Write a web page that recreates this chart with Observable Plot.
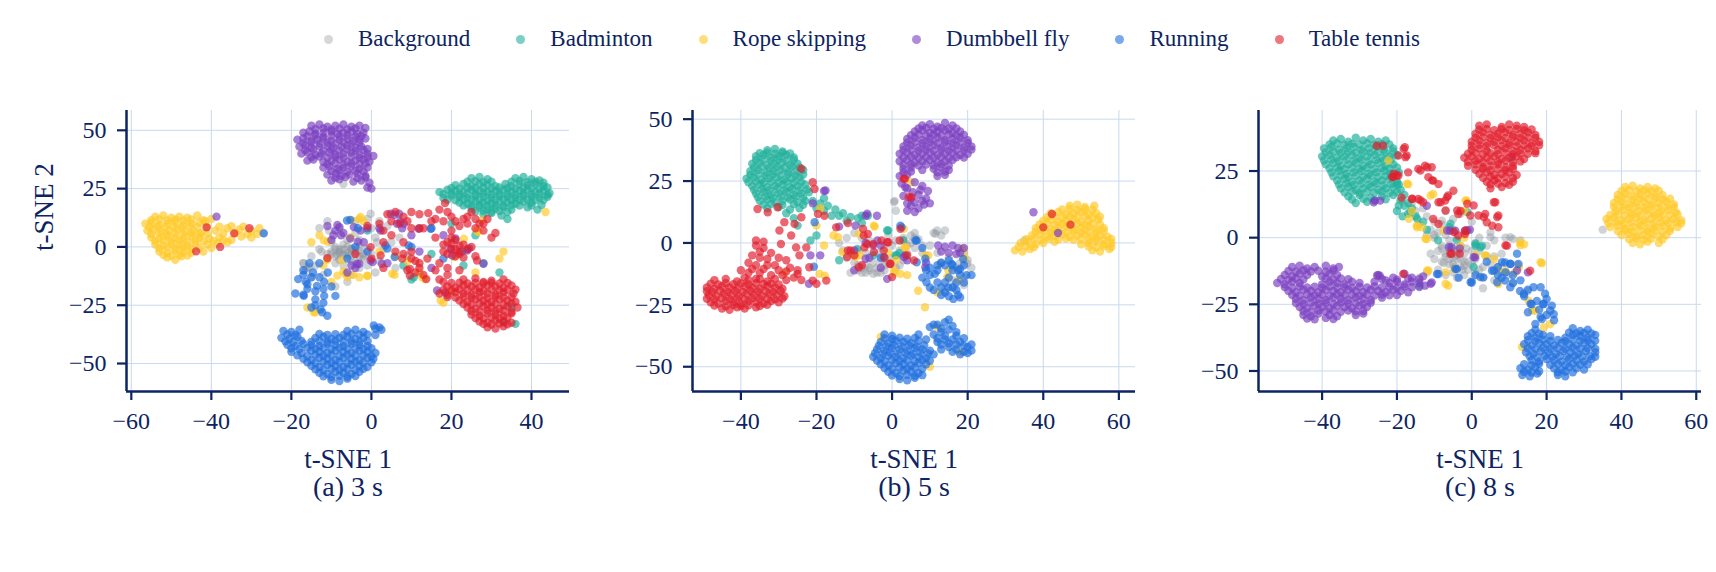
<!DOCTYPE html>
<html><head><meta charset="utf-8">
<script src="https://cdn.jsdelivr.net/npm/d3@7"></script>
<script src="https://cdn.jsdelivr.net/npm/@observablehq/plot@0.6"></script>
<style>
body{margin:0;background:#fff;font-family:"Liberation Serif","DejaVu Serif",serif;color:#0c2461;}
#fig{position:relative;width:1716px;height:572px;overflow:hidden;background:#fff;}
#legend{position:absolute;top:24px;height:30px;left:14px;width:1716px;display:flex;justify-content:center;align-items:center;font-size:23px;}
.item{display:flex;align-items:center;margin:0 23px;}
.mk{width:9px;height:9px;border-radius:50%;margin-right:25px;}
.panel{position:absolute;top:90px;}
</style></head>
<body><div id="fig"><div id="legend"></div></div>
<script>
const classes = ["Background","Badminton","Rope skipping","Dumbbell fly","Running","Table tennis"];
const colors = ["#8a9199","#1fb09b","#ffc926","#7a3fc0","#1f6fdd","#e11d2c"];
const captions = ["(a) 3 s","(b) 5 s","(c) 8 s"];
const xTicks1 = [-60,-40,-20,0,20,40];
const yTicks1 = [-50,-25,0,25,50];
const xTicks2 = [-40,-20,0,20,40,60];
const yTicks2 = [-50,-25,0,25,50];
const xTicks3 = [-40,-20,0,20,40,60];
const yTicks3 = [-50,-25,0,25];
const xDomain1 = [-61.2,49.5], yDomain1 = [-62,58.5];
const xDomain2 = [-52.8,64.4], yDomain2 = [-60,53.5];
const xDomain3 = [-57,61.4], yDomain3 = [-57.7,47.7];

// ---------- panel (a) 3 s ----------
const p1Background = [[-10,-3],[-8,-2],[-6,-4],[-4,-2],[-2,-3],[-9,0],[-7,1],[-5,-1],[-3,0],[-1,-1],[-11,-5],[-8,-5.5],[-5,-6],[-2,-5],[0,-3],[-12.5,-2],[-14,-8],[-16,-9],[-3,3],[-6,3],[-8,8],[-4,11],[-1,12],[2,11],[4,9],[1,4],[3,-1],[5,2],[-12,-12],[-9,-17],[-5,-12],[-7,27],[-27,6],[-7,-8],[-9,-7],[-13,-1],[-4,6],[0,8],[7,4],[9,-4],[-1,-8],[2,-6],[-15,-4],[-10,2],[-11,11],[-13,8],[-17,-7],[-15,-13],[6,-9],[1,-11],[-3,-9],[12,8],[-6,-15],[-9,-4],[-7,-3],[-5,-3],[-3,-4],[-8,-1],[-6,0],[-4,-6],
[-9,-1],[-8,-2.5],[-7,-1],[-6,-2.5],[-5,-1],[-4,-3],[-8.5,-3.5],[-6.5,-3.5],[-5,-0.5],[-10,-2],[-3,-1.5],[-2,-4],[-11,-3],[-17,-7],[-15.5,-8.5],[-16.5,-10],[-10.6,7],[1.4,2],[-0.2,14.2]];
const p1Badminton = [[25,29.5],[27,30],[29,29],[36,29.5],[38,30],[40,29],[42,28.5],
[21,26.5],[23,27],[25,26],[27,27],[29,26.5],[31,26],[33.5,27],[35,26],[37,27],[39,26.5],[41,27],[43,26],
[17,23.5],[19,24.5],[21,24],[23,23.5],[25,24.5],[27,24],[29,23.5],[31,24],[33,24.5],[35,23.5],[37,24],[39,24.5],[41,23.5],[43,24],[44.5,23],
[18,21],[20,22],[22,21.5],[24,21],[26,22],[28,21.5],[30,21],[32,22],[34,21.5],[36,21],[38,22],[40,21.5],[42,21],[44,21.5],
[22,19],[24,18.5],[26,19.5],[28,19],[30,18.5],[32,19.5],[34,19],[36,18.5],[38,19.5],[40,19],[42.5,18],
[25,16.5],[27,17],[29,16],[31,16.5],[33,17],[35,16],[39,17],[41.5,16],
[28,14],[30,14.5],[32.5,13.5],[34,12],
[24,28],[26,28.2],[28,27.8],[30,28],[35,28],[37,28.3],[39,27.8],[41,28],[43,27.5],
[20,25.3],[22,25],[24,25.5],[26,25.2],[28,25.4],[30,25],[32,25.5],[34,25.2],[36,25],[38,25.4],[40,25.2],[42,25],[44,25.5],
[18,22.7],[20,22.9],[22,22.5],[24,22.8],[26,22.6],[28,23],[30,22.5],[32,22.8],[34,22.7],[36,22.4],[38,22.9],[40,22.6],[42,22.8],[44,22.4],
[19,20.2],[21,20],[23,20.4],[25,20.1],[27,20.3],[29,19.9],[31,20.2],[33,20.4],[35,20],[37,20.2],[39,20.3],[41,20],[43,20.1],
[23,17.8],[25,17.6],[27,18],[29,17.7],[31,17.9],[33,17.6],[35,18],[37,17.7],[40,17.8],
[26,15.3],[28,15.5],[30,15.1],[32,15.4],[34,15],
[10,-14],[8,-8],[20,10],[26,5],[28,-7],[32,-11],[36,-33],[35,-26],[-1,7],[15,-3],[23,-8],[10.6,-13],[33.1,-32.3]];
const p1RopeSkipping = [[-54,13],[-52,13.5],[-50,12.5],[-48,13],[-46,12.5],[-43.5,13.5],
[-56.5,10],[-55,10.5],[-53,9.5],[-51,10],[-49,10.5],[-47,9.5],[-45,10],[-43,10.5],[-41.5,11],[-40,12],
[-56,7],[-54.5,7.5],[-52.5,6.5],[-50.5,7],[-48.5,7.5],[-46.5,6.5],[-44.5,7],[-42.5,6],[-39,7],[-36,8],[-33,7.5],[-30,7],[-28,8],
[-55,4],[-53,3.5],[-51,4.5],[-49,4],[-47,3.5],[-45,4.5],[-43,4],[-40.5,3.5],[-38,4],[-35,3],[-32.5,4.5],[-30,4],[-28.5,5.5],
[-54,1],[-52,0.5],[-50,1.5],[-48,1],[-46,0.5],[-44,1.5],[-41,1],[-38.5,1.5],[-36,2],
[-53,-2],[-51,-2.5],[-49,-1.5],[-47,-2],[-45,-2.5],[-42,-2],
[-51,-4.5],[-49,-5.5],[-47.5,-4],
[-55,11.5],[-53,11.8],[-51,11.4],[-49,11.7],[-47,11.3],[-45,11.8],[-42,11.5],
[-55.5,8.5],[-53.5,8.8],[-51.5,8.4],[-49.5,8.7],[-47.5,8.3],[-45.5,8.8],[-43.5,8.5],[-41,8.6],[-38,8.7],[-35,8.9],[-32,8.7],
[-55,5.5],[-53,5.8],[-51,5.4],[-49,5.7],[-47,5.3],[-45,5.8],[-43,5.5],[-41,5.6],[-37,5.8],[-34,6],[-31,5.5],
[-54,2.5],[-52,2.8],[-50,2.4],[-48,2.7],[-46,2.3],[-44,2.8],[-42,2.5],[-39.5,2.6],[-37,3],
[-53,-0.5],[-51,-0.2],[-49,-0.6],[-47,-0.3],[-45,-0.7],[-43,-0.3],[-40,-0.5],
[-52,-3.5],[-50,-3.8],[-48,-3.4],[-46,-3.7],
[-11,-5.5],[-13,5],[-7,-10.5],[-8.5,-12.3],[-6,-13],[-4.5,-12],[-3,-13],[-1,-12.5],[2,-2],[5.8,-12],[-12,-8],[-10,-15],[-16,-26],[-14,-28],[-2,11],[-5,11.5],[12,-11],[13.3,-13.8],[20,-19],[26.7,6.5],[32,-5],[33,-2],[18,-24],[20.7,-4.3],[6,-4],[-15,2],[-10.9,2.2],[-3,12],[9,-6],[26,-11],[43.5,15],
[-11.9,2.8],[-7.3,-5.8],[-5.2,4.2],[-6.5,-11.5],[-1,-12.3],[5.2,-11.5],[12.7,-13],[17.3,-23],[26.4,7],[27.7,11.3],[23.1,3.5],[-2.7,12.8],[-14.4,-28]];
const p1DumbbellFly = [[-15,52],[-13,52.5],[-11,51.5],[-9,52],[-7,52.5],[-5,51.5],[-3,52],[-1.5,51],
[-17,49],[-15.5,49.5],[-14,48.5],[-12,49],[-10,49.5],[-8.5,48.5],[-7,49],[-5,49.5],[-3.5,48.5],[-2,49],
[-18.5,46],[-17,46.5],[-15,45.5],[-13.5,46],[-12,46.5],[-10,45.5],[-8,46],[-6,46.5],[-4.5,45.5],[-3,46],[-1.5,46.5],
[-18,43],[-16.5,43.5],[-15,42.5],[-13,43],[-11,43.5],[-9.5,42.5],[-7.5,43],[-6,43.5],[-4,42.5],[-2.5,43],[-1,42],
[-17.5,40],[-16,40.5],[-14,39.5],[-12.5,40],[-10.5,40.5],[-9,39.5],[-7,40],[-5,40.5],[-3,39.5],[-1,40],[0.5,39],
[-16,37],[-14.5,37.5],[-12,36.5],[-10,37],[-8,37.5],[-6,36.5],[-4,37],[-2,37.5],[-0.5,36.5],
[-12,34],[-10.5,34.5],[-8.5,33.5],[-7,34],[-5,34.5],[-3,33.5],[-1,34],
[-11,31],[-9,31.5],[-7.5,30.5],[-5.5,31],[-3.5,31.5],[-1.5,30.5],
[-10,28.5],[-8,29],[-4.5,28],[-2.5,28.5],[-0.5,27.5],[-1,25.5],[0,25],
[-14,50.5],[-12,50.8],[-10,50.3],[-8,50.7],[-6,50.4],[-4,50.8],
[-16,47.5],[-14,47.8],[-12,47.3],[-10,47.7],[-8,47.4],[-6,47.8],[-4,47.3],[-2.5,47.6],
[-17,44.5],[-15,44.8],[-13,44.3],[-11,44.7],[-9,44.4],[-7,44.8],[-5,44.3],[-3,44.6],
[-16.5,41.5],[-14.5,41.8],[-12,41.3],[-10,41.7],[-8,41.4],[-6,41.8],[-4,41.3],[-2,41.6],
[-15,38.5],[-13,38.8],[-11,38.3],[-9,38.7],[-7,38.4],[-5,38.8],[-3,38.3],[-1,38.6],
[-11,35.5],[-9,35.8],[-7,35.3],[-5,35.7],[-3,35.4],[-1.5,35.8],
[-10,32.5],[-8,32.8],[-6,32.3],[-4,32.7],[-2,32.4],
[-9,29.7],[-6.5,30],[-3.5,29.5],[-1.5,29.8],
[-8.5,9.4],[-7.6,5],[-5.3,3.6],[-3.4,2.2],[-3,-7.2],[0.3,-6.5],[2.6,-7.2],[5.8,13.8],[7.2,10.9],[7.7,8],[10,5],[18,5],[18.4,-19.6],[21,3.6],[28,-7.2],[24.4,-0.7],[-6,-11],[-4,-9],[12,-2],[15,-9],[2,8],[-1,8],[4,-7],[-11,9],[-10,3],[-5,-8],[-38.7,13],
[-9,7],[-8,8.5],[-7,6],[-9.5,5],[-2.7,7],[-1.9,2],[2.3,7],[4.8,14.2],[6.9,14.2],[6.4,9.9],[8.1,9.9],[11.8,7.8],[19.8,-0.8],[23.9,-1.5],[20.2,-3.7],[-0.2,-5.8],[-3.6,-7.3],[16.4,-18.7],[-4.4,8.5]];
const p1Running = [[-22,-36],[-20,-36.5],[-18,-35.5],[-6,-36],[-4,-35.5],[-2,-36.5],[1,-35],[2.5,-35.5],
[-22.5,-39],[-20.5,-39.5],[-18.5,-38.5],[-14,-39],[-12,-38.5],[-10,-39.5],[-8,-39],[-6,-38.5],[-4,-39.5],[-2,-39],
[-21,-42],[-19,-42.5],[-17,-41.5],[-15,-42],[-13,-42.5],[-11,-41.5],[-9,-42],[-7,-42.5],[-5,-41.5],[-3,-42],[-1,-42.5],
[-20,-45],[-17.5,-45.5],[-15,-44.5],[-13,-45],[-11,-45.5],[-9,-44.5],[-7,-45],[-5,-45.5],[-3,-44.5],[-1,-45],[1,-45.5],
[-17,-48],[-15,-48.5],[-13,-47.5],[-11,-48],[-9,-48.5],[-7,-47.5],[-5,-48],[-3,-48.5],[-1,-47.5],[0.5,-48],
[-15,-51],[-13,-51.5],[-11,-50.5],[-9,-51],[-7,-51.5],[-5,-50.5],[-3,-51],[-1,-51.5],
[-13,-54],[-11,-54.5],[-9,-53.5],[-7,-54],[-5,-54.5],[-3,-53.5],
[-10,-57],[-8,-57.5],[-6,-56.5],
[-21,-37.5],[-19,-37.8],[-13,-37.3],[-11,-37.7],[-9,-37.4],[-7,-37.8],[-5,-37.3],[-3,-37.6],[-1,-37.5],[1,-37.8],
[-21.5,-40.5],[-19.5,-40.8],[-17.5,-40.3],[-15,-40.7],[-13,-40.4],[-11,-40.8],[-9,-40.3],[-7,-40.6],[-5,-40.5],[-3,-40.8],[-1,-40.4],
[-20,-43.5],[-18,-43.8],[-16,-43.3],[-14,-43.7],[-12,-43.4],[-10,-43.8],[-8,-43.3],[-6,-43.6],[-4,-43.5],[-2,-43.8],[0,-43.4],
[-18.5,-46.5],[-16,-46.8],[-14,-46.3],[-12,-46.7],[-10,-46.4],[-8,-46.8],[-6,-46.3],[-4,-46.6],[-2,-46.5],[0,-46.8],
[-16,-49.5],[-14,-49.8],[-12,-49.3],[-10,-49.7],[-8,-49.4],[-6,-49.8],[-4,-49.3],[-2,-49.6],[0,-49.5],
[-14,-52.5],[-12,-52.8],[-10,-52.3],[-8,-52.7],[-6,-52.4],[-4,-52.8],[-2,-52.3],
[-12,-55.5],[-10,-55.8],[-8,-55.3],[-6,-55.7],[-4,-55.4],
[-15.5,-7],[-14.6,-11],[-16.4,-15],[-13.6,-16.7],[-10.9,-11],[-11.8,-15],[-16.9,-21],[-14,-22.5],[-11.8,-21],[-12.7,-26.8],[-12.3,-28],[-9,-21],[-18.3,-13.8],[-13,-7],[-17,-10],[-14,-19],[-15,-26],[-11,-29.5],[-19,-20],[-15,-13],[-13,-13],[-16,-18],[-12,-18],[-14,-25],
[-17,-12],[-16,-16],[-10,-17],[-12,-24],[-17,-20.5],
[-5.3,11.6],[-3.4,8],[4,-0.7],[5.8,-4.3],[10,0],[15,8],[18,-5],[22.6,-2],[-4,0],[-1,-2],[-6,-5],[-26.9,5.8],[14.8,7.8],[9.3,0.6],[3.5,0.6],[-6.1,11.3],[0.6,-33.7],[2,-34.5]];
const p1TableTennis = [[23,-14],[26,-13.5],[30,-14.5],[33,-14],
[19,-17],[21,-17.5],[23,-16.5],[25,-17],[27,-17.5],[29,-16.5],[31,-17],[33,-17.5],[35,-16.5],
[17,-20],[19,-20.5],[21,-19.5],[23,-20],[25,-20.5],[27,-19.5],[29,-20],[31,-20.5],[33,-19.5],[35.5,-20],
[22,-23],[24,-23.5],[26,-22.5],[28,-23],[30,-23.5],[32,-22.5],[34,-23],[36,-23.5],
[24,-26],[26,-26.5],[28,-25.5],[30,-26],[32,-26.5],[34,-25.5],[36.5,-26],
[25,-29],[27,-29.5],[29,-28.5],[31,-29],[33,-29.5],[35,-28.5],
[27,-32],[29,-32.5],[31,-31.5],[33,-32],[35,-32.5],
[29,-34.5],[31,-35],[33,-34],
[20,-15.5],[22,-15.3],[24,-15.7],[26,-15.4],[28,-15.6],[30,-15.3],[32,-15.7],[34,-15.4],
[18,-18.5],[20,-18.7],[22,-18.3],[24,-18.6],[26,-18.4],[28,-18.8],[30,-18.3],[32,-18.6],[34,-18.5],[36,-18.3],
[19,-21.5],[21,-21.7],[23,-21.3],[25,-21.6],[27,-21.4],[29,-21.8],[31,-21.3],[33,-21.6],[35,-21.5],
[23,-24.5],[25,-24.7],[27,-24.3],[29,-24.6],[31,-24.4],[33,-24.8],[35,-24.3],
[25,-27.5],[27,-27.7],[29,-27.3],[31,-27.6],[33,-27.4],[35,-27.8],
[26,-30.5],[28,-30.7],[30,-30.3],[32,-30.6],[34,-30.4],
[28,-33],[30,-33.3],[32,-32.8],[34,-33.2],
[17,-14],[19,-12],[16,-10],[22,-10],[18,-15],
[19,2],[21,3],[23,1],[20,-1],[22,-2],[24,-1],[21,-4],[23,-4.5],[25,0],[20,4],[22,0.5],[18,1],[19,-3],[21,-1],[20,1.5],[22,-3],
[-11,-4.8],[2,10],[5,11],[7,10],[9,11],[12,8],[14.2,14.5],[16,12],[18.4,18.8],[17,16],[20,13],[22,9],[24,10],[26,8],[28,7],[30,4],[3,2],[5,5],[6,-2],[7.7,-5],[9.6,-9.4],[9.6,-12.3],[11,-6],[12,-9],[14,-5],[13.7,-13.8],[17,-7],[16,4],[18,11],[20,7],[23,12],[25,15],[27,10],[29,12],[31,6],[0,-5],[3,-9],[10,-2],[-1,9],[-4,-3],[8,2],[13,8],[18,-2],[26,-4],[28,-15],[19,-9],
[8,-3],[10,-5],[12,-7],[9,-10],[11,-11],[13,-12],[-0.2,-0.1],[2.3,-3.7],[26.4,-5.8],[4,14],[6,15],[8,13],[10,15],[12,14],[15,11],[19,15],[21,11],[24,13],[26,12],[28,10],[3,7],[10,8],
[-41.2,8.4],[-37.8,0],[-43.8,-1.9],[-34.3,5.8],[-30.5,8]];

// ---------- panel (b) 5 s ----------
const p2Background = [[-13,-3],[-11,-4],[-9,-3],[-7,-4],[-12,-6],[-10,-8],[-8,-10],[-6,-11],[-4,-10],[-2,-11],[-9,-11],[-5,-8],[-3,-7],[-1,-8],[0,-6],[-4,-4],[-2,-2],[0,-1],[1,1],[3,2],[-6,1],[-8,2],[-10,4],[2,-3],[4,-4],[6,-2],[5,3],[11,4],[13,3],[14,5],[13,-8],[18,-8],[20,-7],[21,-10],[19,-14],[0.7,17],[-11,-12],[-7,-12],[6,4],[-3,-12],[-5,-12.5],[-7,-9],[1,-10],[3,-7],[8,-4],[10,-1],[12,-4],[15,-6],[17,-10],[19,-4],[-14,0],[-12,2],[1,13],[2,-9],[-1,3],[16,-15],[19,-17],[14,-19],[35,1],[-8,-12],[-6,-10],[-4,-12],[-2,-9],[-9,-9],
[3,1],[5,0],[7,1.5],[8,-1],[4,-1],[6,2],[11.5,3.7],[11.9,5],[12.8,-8.4],[19.9,-8.4],[16.3,-17.9],[0.5,16.5]];
const p2Badminton = [[-33,37.5],[-31,38],[-29,37],
[-36,35],[-34,35.5],[-32,34.5],[-30,35],[-28,35.5],[-26,34.5],
[-37,32],[-35,32.5],[-33,31.5],[-31,32],[-29,32.5],[-27,31.5],[-25,32],
[-37.5,29],[-35.5,29.5],[-33.5,28.5],[-31.5,29],[-29.5,29.5],[-27.5,28.5],[-25.5,29],[-23.5,29.5],
[-38.5,26],[-36.5,26.5],[-34.5,25.5],[-32.5,26],[-30.5,26.5],[-28.5,25.5],[-26.5,26],[-24.5,26.5],
[-37,23],[-35,23.5],[-33,22.5],[-31,23],[-29,23.5],[-27,22.5],[-25,23],[-23,23.5],
[-36,20],[-34,20.5],[-32,19.5],[-30,20],[-28,20.5],[-26,19.5],[-24,20],[-22,20.5],
[-35,17],[-33,17.5],[-31,16.5],[-29,17],[-27,17.5],[-25,16.5],[-23,17],
[-33,14],[-30,14.5],[-27,13.5],[-24.5,14],
[-35,36.3],[-33,36.5],[-31,36.1],[-29,36.4],[-27,36.2],
[-36,33.5],[-34,33.8],[-32,33.3],[-30,33.7],[-28,33.4],[-26,33.6],
[-36.5,30.5],[-34.5,30.8],[-32.5,30.3],[-30.5,30.7],[-28.5,30.4],[-26.5,30.8],[-24.5,30.5],
[-37.5,27.5],[-35.5,27.8],[-33.5,27.3],[-31.5,27.7],[-29.5,27.4],[-27.5,27.8],[-25.5,27.3],[-23.5,27.6],
[-38,24.5],[-36,24.8],[-34,24.3],[-32,24.7],[-30,24.4],[-28,24.8],[-26,24.3],[-24,24.6],
[-36.5,21.5],[-34.5,21.8],[-32.5,21.3],[-30.5,21.7],[-28.5,21.4],[-26.5,21.8],[-24.5,21.3],[-22.5,21.6],
[-35.5,18.5],[-33.5,18.8],[-31.5,18.3],[-29.5,18.7],[-27.5,18.4],[-25.5,18.8],[-23.5,18.3],
[-34,15.5],[-32,15.8],[-29,15.3],[-26,15.7],[-23.5,15.4],
[-21,17],[-19,16],[-17,15],[-15,13.5],[-13,12],[-11,10.5],[-9,10],[-20,14],[-16,11],[-12,9],[-26,10],[-28,12],[-18,18],[-8,11],[-6.4,11],[-14,11],[-18,13],
[-8,8],[-1,5],[1.2,-5],[2,-4],[-5,-5],[-20,3],[-14,-7],[3,1],[-25,7],[-1.3,5],[0.9,-5],[-9.2,-2.4],[-21.6,1]];
const p2RopeSkipping = [[47,15],[49,15.5],[51,14.5],[53.5,15],
[42,12],[44,12.5],[46,11.5],[48,12],[50,12.5],[52,11.5],[54,12],
[40,9],[42,9.5],[44,8.5],[46,9],[48,9.5],[50,8.5],[52,9],[54.5,9.5],
[38,6],[40,6.5],[42,5.5],[44,6],[46,6.5],[48,5.5],[50,6],[52,6.5],[54,5.5],[56,6],
[37,3],[39,3.5],[41,2.5],[43,3],[45,3.5],[47,2.5],[49,3],[51,3.5],[53,2.5],[55,3],[57,2.5],
[34,0],[36,0.5],[38,-0.5],[40,0],[43,0.5],[50,-0.5],[52,0],[54,0.5],[56,-0.5],[58,0],
[32.5,-3],[34.5,-3.5],[36.5,-2.5],[53,-3],[55,-3.5],[57.5,-2.5],
[45,13.5],[47,13.8],[49,13.3],[51,13.7],[53,13.4],
[41,10.5],[43,10.8],[45,10.3],[47,10.7],[49,10.4],[51,10.8],[53,10.3],[55,10.6],
[39,7.5],[41,7.8],[43,7.3],[45,7.7],[47,7.4],[49,7.8],[51,7.3],[53,7.6],[55,7.5],
[38,4.5],[40,4.8],[42,4.3],[44,4.7],[46,4.4],[48,4.8],[50,4.3],[52,4.6],[54,4.5],[56,4.8],
[35.5,1.5],[37.5,1.8],[39.5,1.3],[41.5,1.7],[44,1.4],[46,1.8],[48,1.3],[50,1.6],[52,1.5],[54,1.8],[56,1.4],[58,1.6],
[33.5,-1.5],[35.5,-1.2],[37.5,-1.7],[52,-1.4],[54,-1.7],[56,-1.3],[58,-1.6],
[-20,7],[-14.3,2.3],[-15.5,3],[-9.9,-4.7],[-8.5,-5],[-4.6,6.6],[3.4,-1.8],[3.8,-5],[0.7,-11.9],[9.6,-5],[18.8,-2.4],[19.2,-5.8],[-19.2,-12.5],[-17.8,-13.2],[-28.5,-12],[14.9,-11],[17.5,-15],[-19,14],[-18,-1],[-1,-4],[12,-20],[4,-13],[6.9,-19.3],[8.7,-26],[12,-34],[18,-44],[10,-50],[-3,-38],[5,24.5],[1,-7],
[-8.8,3.7],[-4.8,7],[-13.2,-3.7],[-9.7,-5.7],[0.5,-11.1],[3.1,5.7],[3.5,-1.7],[8.8,-5],[18.5,-2.4],[2.2,-12.5],[14.6,-13.8]];
const p2DumbbellFly = [[8,47.5],[10,48],[12,47],[14,48.5],[16,47.5],
[6,45],[8,45.5],[10,44.5],[12,45],[14,45.5],[16,44.5],[18,45],
[4,42],[6,42.5],[8,41.5],[10,42],[12,42.5],[14,41.5],[16,42],[18,42.5],[20,41.5],
[3,39],[5,39.5],[7,38.5],[9,39],[11,39.5],[13,38.5],[15,39],[17,39.5],[19,38.5],[21,39],
[2,36],[4,36.5],[6,35.5],[8,36],[10,36.5],[12,35.5],[14,36],[16,36.5],[18,35.5],[20,36],
[2,33],[4,33.5],[6,32.5],[8,33],[10,33.5],[12,32.5],[14,33],[16,33.5],
[3,30],[5,30.5],[8,29.5],[11,30],[13,30.5],[15,29.5],
[2,27],[4,27.5],[12,27],[14,27.5],
[7,46.2],[9,46.5],[11,46],[13,46.4],[15,46.1],[17,46.3],
[5,43.5],[7,43.8],[9,43.3],[11,43.7],[13,43.4],[15,43.8],[17,43.3],[19,43.6],
[4,40.5],[6,40.8],[8,40.3],[10,40.7],[12,40.4],[14,40.8],[16,40.3],[18,40.6],[20,40.5],
[3,37.5],[5,37.8],[7,37.3],[9,37.7],[11,37.4],[13,37.8],[15,37.3],[17,37.6],[19,37.5],[21,37.7],
[3,34.5],[5,34.8],[7,34.3],[9,34.7],[11,34.4],[13,34.8],[15,34.3],[17,34.6],[19,34.5],
[3,31.5],[5,31.8],[7,31.3],[9,31.7],[11,31.4],[13,31.8],[15,31.3],
[3,28.5],[5,28.8],[12,28.5],[14,28.8],
[2.5,24],[4,22],[6,24.5],[8,23],[9.5,21],[3,19],[5,18],[7,19.5],[9,18],[5,15],[7,14],[8.5,15.5],[4,13],[6,12.5],[10,16],[3.5,22.5],[5.5,20.5],[7.5,21.5],[6,16.5],[4,16],[8,17],
[12.2,-1],[14,-1.5],[16,-1],[17.5,-2],[13,-3.5],[15,-4],[17,-4.5],[19,-2],[18,-4],
[37.4,12.4],[43.9,4],
[-18,21],[-7,11],[-4,11],[-21,16],[-14,6.6],[-7,0],[-3,-1],[-6,-6],[-10,-11],[-3,-10],[4,-7],[9,-8],[3.5,-5],[-19,-5],[-10,-3],[-5,-1],
[-6.6,11.8],[-9.7,7],[-17.6,21.2],[-3.9,1],[-7,-6.4],[-1.3,-14.5],[3.1,-5.7],[8.8,-9.8],[-21.6,-5],[-22,-16.5]];
const p2Running = [[-2,-37],[0,-37.5],
[-3,-40],[-1,-40.5],[1,-39.5],[3,-40],[5,-40.5],[7,-39.5],
[-4,-43],[-2,-43.5],[0,-42.5],[2,-43],[4,-43.5],[6,-42.5],[8,-43],[10,-43.5],
[-5,-46],[-3,-46.5],[-1,-45.5],[1,-46],[3,-46.5],[5,-45.5],[7,-46],[9,-46.5],
[-3,-49],[-1,-49.5],[1,-48.5],[3,-49],[5,-49.5],[7,-48.5],[9,-49],
[-1,-52],[1,-52.5],[3,-51.5],[5,-52],[7,-52.5],
[2,-55],[4,-55.5],[6,-54.5],
[-2,-38.5],[0,-38.8],[2,-38.3],[4,-38.7],[6,-38.4],
[-3.5,-41.5],[-1.5,-41.8],[0.5,-41.3],[2.5,-41.7],[4.5,-41.4],[6.5,-41.8],[8.5,-41.3],
[-4.5,-44.5],[-2.5,-44.8],[-0.5,-44.3],[1.5,-44.7],[3.5,-44.4],[5.5,-44.8],[7.5,-44.3],[9.5,-44.6],
[-4,-47.5],[-2,-47.8],[0,-47.3],[2,-47.7],[4,-47.4],[6,-47.8],[8,-47.3],[10,-47.6],
[-2,-50.5],[0,-50.8],[2,-50.3],[4,-50.7],[6,-50.4],[8,-50.8],
[0,-53.5],[2,-53.8],[4,-53.3],[6,-53.7],[8,-53.4],
[10,-34],[12,-33],[14,-32],[15,-31],[11,-37],[13,-36],[15,-35],[17,-36],[12,-40],[14,-39],[16,-39],[18,-40],[20,-42],[13,-43],[15,-42],[17,-43],[19,-44],[21,-43.5],[11,-45],[9,-39],[7,-37],
[11,-33],[13,-34.5],[16,-33.5],[12,-38.5],[14,-37.5],[17,-37.5],[19,-38.5],[13,-41],[15,-40.5],[17,-41],[19,-41.5],[21,-41],[16,-44],[18,-45],[20,-44.5],
[11.3,-12.5],[9.1,-15.9],[10,-18],[12,-9],[15.8,-8.5],[17.5,-11],[19.7,-13],[14.9,-18],[17.5,-21],[16.2,-22.6],[9,-11],[8,-14],[11,-19],[15,-7],[19,-9],[16,-11],[18,-13],[15,-14],[17,-16],[14,-20],[18,-22],[13,-8],[21,-13],[13,-18],[12,-16],
[10,-10],[12,-11],[10,-13],[14,-9],[16,-9],[18,-10.5],[14,-16],[16,-18],[13,-21],[17,-19],[19,-16],[15,-21.5],
[6.5,1],[2.5,6.3],[-20.5,8.4],[-20.7,-9.6],[6.5,-7.8],[18.8,-6.5],[-3,-6],[8,-2],[6.2,1],[2.2,7],[-2.2,-5.7],[8.8,-6.4]];
const p2TableTennis = [[-47,-15],[-44,-14.5],[-41,-15.5],[-38,-15],[-35,-14.5],[-33,-15.5],
[-49,-18],[-47,-18.5],[-45,-17.5],[-43,-18],[-41,-18.5],[-39,-17.5],[-37,-18],[-35,-18.5],[-33,-17.5],[-31,-18],[-29,-18.5],
[-48.5,-21],[-46.5,-21.5],[-44.5,-20.5],[-42.5,-21],[-40.5,-21.5],[-38.5,-20.5],[-36.5,-21],[-34.5,-21.5],[-32.5,-20.5],[-30.5,-21],[-28.5,-21.5],
[-48,-24],[-46,-24.5],[-44,-23.5],[-42,-24],[-40,-24.5],[-38,-23.5],[-36,-24],[-34,-24.5],[-32,-23.5],[-30,-24],
[-45,-26.5],[-43,-27],[-41,-26],[-39,-26.5],[-36,-26],
[-48,-16.5],[-46,-16.8],[-44,-16.3],[-42,-16.7],[-40,-16.4],[-38,-16.8],[-36,-16.3],[-34,-16.6],[-32,-16.5],[-30,-16.8],
[-49,-19.5],[-47.5,-19.8],[-45.5,-19.3],[-43.5,-19.7],[-41.5,-19.4],[-39.5,-19.8],[-37.5,-19.3],[-35.5,-19.6],[-33.5,-19.5],[-31.5,-19.8],[-29.5,-19.4],
[-49,-22.5],[-47,-22.8],[-45,-22.3],[-43,-22.7],[-41,-22.4],[-39,-22.8],[-37,-22.3],[-35,-22.6],[-33,-22.5],[-31,-22.8],[-29,-22.4],
[-47,-25.3],[-44,-25.6],[-42,-25.1],[-40,-25.5],[-38,-25.2],[-35,-25.5],[-33,-25],
[-36,-1],[-34,-2],[-32,-4],[-37,-5],[-35,-6],[-30,-6],[-28,-7],[-38,-8],[-36,-9],[-33,-9],[-31,-9],[-27,-10],[-25,-11],[-40,-11],[-38,-12],[-35,-12],[-32,-13],[-29,-13],[-26,-14],[-24,-15],[-36,1],[-34,0.5],
[-35,-3.5],[-33,-6.5],[-37,-10.5],[-34,-10.5],[-30,-11],[-28,-11.5],[-31,-14.5],[-28,-15],[-39,-14],[-36,-14.5],
[-24,30],[-21,24.5],[-20.5,21.8],[-35.6,13.7],[-32.9,12.4],[-30.3,14.4],[-28.5,8.4],[-25.8,7.7],[-24,10.4],[-19.6,11.7],[-17.9,11],[-14.8,6.3],[-11.7,8],[-29.8,5],[-29.4,-0.4],[-26.7,3],[-25.4,-1.8],[-22.7,-1.8],[-24.5,-5],[-7.7,5.7],[-6.4,3.6],[-7.3,-1.8],[-5,-0.4],[-2.8,1],[-1,0.3],[-0.6,-8.5],[-11.7,-3],[-10,-5],[-21.9,-9.8],[-21,-15.2],[-17.4,-15.2],[-20,-16.5],[-25,-12.5],[-8,-9],[-2,-6],[4,-5],[2,1],[3.4,25.9],[5.1,18.5],[42.3,11.7],[40,6.3],[47.2,7.4],
[-7.5,3],[-6.6,-0.4],[-4.8,-3.7],[-2.2,-3],[-1.3,0.3],[2.2,5.7],[-0.4,-8.4],[0,-13.8],[5.8,-7.1],[-11,-3],[-11.9,-5.7],[-8.8,-9.8],[4.4,18.5],[3.1,25.9]];

// ---------- panel (c) 8 s ----------
const p3Background = [[-13,11],[-12,8],[-10,6],[-8,5],[-9,2],[-7,1],[-5,3],[-4,0],[-6,-1],[-8,-3],[-5,-4],[-3,-3],[-7,-7],[-4,-8],[-2,-6],[0,-5],[-6,-10],[-3,-11],[-1,-9],[1,-8],[2,-12],[-2,-14],[-4,-15],[0,-16],[3,-15],[-9,-12],[5,-10],[7,-11],[9,-13],[10,-14],[11,-17],[4,-3],[6,-1],[9,0],[11,-0.5],[13,-1],[5,2],[2,0],[-10,-8],[-15,10],[-12,-13],[-14,-15],[-11,3],[-10,1],[-16,13],[3,-19],[6,-16],[-5,-13],[-7,-14],[-1,-12],[1,-2],[-2,2],[-8,-9],[-11,-6],[8,-6],[12,-10],[15,-20],[35,3],[-3,9],[-5,7],[0,6],[-7,10],[-9,-5],[-6,-5],[-4,-5],[-2,-9],[2,-5],[4,-7],[6,-7],
[-8,-4],[-7,-6],[-6,-8],[-5,-10],[-4,-6.5],[-3,-8],[-2,-10.5],[-1.5,-4],[-6,-3],[-7.5,-9.5],[-5,-7.5],[-3.5,-5],[-4.5,-11],[-2.5,-12],[0,-10],[1,-13],[3,-11],[-14,5],[-12,1],[-8,6.4],[-10,0],[5,0.2],[10.3,0.2]];
const p3Badminton = [[-37,36.5],[-35,37],[-33,36],[-31,37.5],[-29,36.5],[-27,37],[-25,36],[-23,36.5],
[-39.5,33.5],[-37.5,34],[-35.5,33],[-33.5,33.5],[-31.5,34],[-29.5,33],[-27.5,33.5],[-25.5,34],[-23.5,33],[-21,33.5],
[-40,30.5],[-38,31],[-36,30],[-34,30.5],[-32,31],[-30,30],[-28,30.5],[-26,31],[-24,30],[-22,30.5],[-20,31],
[-39,27.5],[-37,28],[-35,27],[-33,27.5],[-31,28],[-29,27],[-27,27.5],[-25,28],[-23,27],[-21,27.5],
[-37.5,24.5],[-35.5,25],[-33.5,24],[-31.5,24.5],[-29.5,25],[-27.5,24],[-25.5,24.5],[-23.5,25],[-21.5,24],[-19.5,24.5],
[-36,21.5],[-34,22],[-32,21],[-30,21.5],[-28,22],[-26,21],[-24,21.5],[-22,22],[-20,21],
[-35,18.5],[-33,19],[-31,18],[-29,18.5],[-27,19],[-25,18],[-23,18.5],[-21,19],[-19,18],
[-33,15.5],[-30,16],[-27,15],[-24,15.5],[-21,16],[-31,13],[-28,13.5],
[-38,35],[-36,35.3],[-34,34.8],[-32,35.2],[-30,34.9],[-28,35.3],[-26,34.8],[-24,35.1],[-22,35],
[-39,32],[-37,32.3],[-35,31.8],[-33,32.2],[-31,31.9],[-29,32.3],[-27,31.8],[-25,32.1],[-23,32],[-21,32.3],
[-39.5,29],[-37.5,29.3],[-35.5,28.8],[-33.5,29.2],[-31.5,28.9],[-29.5,29.3],[-27.5,28.8],[-25.5,29.1],[-23.5,29],[-21.5,29.3],
[-38,26],[-36,26.3],[-34,25.8],[-32,26.2],[-30,25.9],[-28,26.3],[-26,25.8],[-24,26.1],[-22,26],[-20,26.3],
[-37,23],[-35,23.3],[-33,22.8],[-31,23.2],[-29,22.9],[-27,23.3],[-25,22.8],[-23,23.1],[-21,23],
[-35.5,20],[-33.5,20.3],[-31.5,19.8],[-29.5,20.2],[-27.5,19.9],[-25.5,20.3],[-23.5,19.8],[-21.5,20.1],[-19.5,20],
[-34,17],[-32,17.3],[-30,16.8],[-28,17.2],[-26,16.9],[-24,17.3],[-22,16.8],[-20,17.1],
[-32,14.3],[-29,14.6],[-26,14.1],[-23,14.4],
[-19,14],[-18,12],[-20,10],[-17,9],[-15,8],[-18.5,8],[-16,11],
[-21.7,24],[-20,20],[-19.5,12.1],[-16.4,9.6],[-14.6,7.1],[-18,16],[-17,13],
[-13,6],[-9,-1],[2.7,-3],[1,-3],[-6,4],[-12,3],[-4,-1],[-14,-18],[-1.2,9.6],[1,-2.3],[2.3,-3.6],[0.5,-11],[-5.7,5.2]];
const p3RopeSkipping = [[41,19],[43,19.5],[45,18.5],[47,19],[49,18.5],
[39,16],[41,16.5],[43,15.5],[45,16],[47,16.5],[49,15.5],[51,16],
[38,13],[40,13.5],[42,12.5],[44,13],[46,13.5],[48,12.5],[50,13],[52,13.5],[54,12.5],
[38.5,10],[40.5,10.5],[42.5,9.5],[44.5,10],[46.5,10.5],[48.5,9.5],[50.5,10],[52.5,10.5],[54.5,9.5],
[36,7],[38,7.5],[40,6.5],[42,7],[44,7.5],[46,6.5],[48,7],[50,7.5],[52,6.5],[54,7],[56,6.5],
[37,4],[39,4.5],[41,3.5],[43,4],[45,4.5],[47,3.5],[49,4],[51,4.5],[53,3.5],[55,4],
[40,1],[42,1.5],[44,0.5],[46,1],[48,1.5],[50,0.5],[52,1],
[43,-2],[45,-2.5],[47,-1.5],[50,-2],
[40,17.5],[42,17.8],[44,17.3],[46,17.7],[48,17.4],[50,17.6],
[39,14.5],[41,14.8],[43,14.3],[45,14.7],[47,14.4],[49,14.8],[51,14.3],[53,14.6],
[38,11.5],[40,11.8],[42,11.3],[44,11.7],[46,11.4],[48,11.8],[50,11.3],[52,11.6],[54,11.5],
[37,8.5],[39,8.8],[41,8.3],[43,8.7],[45,8.4],[47,8.8],[49,8.3],[51,8.6],[53,8.5],[55,8.8],
[36.5,5.5],[38.5,5.8],[40.5,5.3],[42.5,5.7],[44.5,5.4],[46.5,5.8],[48.5,5.3],[50.5,5.6],[52.5,5.5],[54.5,5.8],[56,5.4],
[39,2.5],[41,2.8],[43,2.3],[45,2.7],[47,2.4],[49,2.8],[51,2.3],[53,2.6],
[42,-0.5],[44,-0.2],[46,-0.7],[48,-0.3],[51,-0.6],
[-22.3,28.9],[-17,20],[-14.7,4.5],[-13.4,3.9],[-12,-0.5],[-10.3,16.4],[-1.3,13.9],[3.6,-6.8],[-6.3,-18],[-11.6,-12.4],[-4.5,-11.8],[7.1,-17.4],[8.9,-12.4],[11.6,-13],[12.9,-1.8],[14,-2.5],[18.75,-9.6],[15.2,-23.7],[17,-27.4],[21,-32.4],[13.4,-41],[-2,10],[-3,-3],[1,-6.5],[6,-8],[-16,10],[-7,-13],[-2,0],
[-17.3,20.2],[-16.8,7.1],[-14.6,3.9],[-12.4,-0.4],[-11,15.8],[-1.7,14],[-7.5,2.7],[3.7,-6.7],[6.8,-12.3],[12.6,-11],[13,-2.9],[18.4,-9.2],[-7,-17.3],[-11.9,-12.3],[16.1,-27.3],[19.3,-33.6]];
const p3DumbbellFly = [[-48,-11],[-46,-10.5],[-44,-11.5],[-42,-11],[-39,-10.5],[-37,-11.5],[-35.5,-11],
[-50,-14],[-48,-14.5],[-46,-13.5],[-44,-14],[-40,-14.5],[-38,-13.5],[-36,-14],
[-52,-17],[-50,-17.5],[-48,-16.5],[-46,-17],[-40,-17.5],[-38,-16.5],[-36,-17],[-34,-17.5],[-32,-16.5],[-30,-17],[-26,-16.5],[-22,-17],[-20,-16.5],[-18,-17.5],[-16,-16.5],[-14,-17],
[-49,-20],[-47,-20.5],[-45,-19.5],[-43,-20],[-41,-20.5],[-39,-19.5],[-37,-20],[-35,-20.5],[-33,-19.5],[-31,-20],[-29,-20.5],[-27,-19.5],[-25,-20],[-23,-20.5],[-21,-19.5],[-19,-20],[-17,-20.5],
[-47,-23],[-45,-23.5],[-43,-22.5],[-41,-23],[-39,-23.5],[-37,-22.5],[-35,-23],[-33,-23.5],[-31,-22.5],[-29,-23],[-27,-23.5],[-24,-22.5],
[-46,-26],[-44,-26.5],[-42,-25.5],[-40,-26],[-38,-26.5],[-36,-25.5],[-34,-26],[-32,-26.5],[-30,-25.5],[-28,-26],
[-45,-29],[-43,-29.5],[-41,-28.5],[-38,-29],[-36,-29.5],[-31,-29],[-29,-28.5],
[-49,-12.5],[-47,-12.8],[-45,-12.3],[-43,-12.7],[-41,-12.4],[-39,-12.8],[-37,-12.3],
[-51,-15.5],[-49,-15.8],[-47,-15.3],[-45,-15.7],[-39,-15.4],[-37,-15.8],[-35,-15.3],[-33,-15.6],[-24,-15.5],[-20,-15.8],[-17,-15.3],[-14,-15.6],
[-50,-18.5],[-48,-18.8],[-46,-18.3],[-44,-18.7],[-42,-18.4],[-40,-18.8],[-38,-18.3],[-36,-18.6],[-34,-18.5],[-32,-18.8],[-30,-18.4],[-28,-18.7],[-26,-18.3],[-24,-18.6],[-22,-18.5],[-20,-18.8],[-18,-18.3],[-16,-18.6],[-14,-18.5],
[-48,-21.5],[-46,-21.8],[-44,-21.3],[-42,-21.7],[-40,-21.4],[-38,-21.8],[-36,-21.3],[-34,-21.6],[-32,-21.5],[-30,-21.8],[-28,-21.4],[-26,-21.7],[-24,-21.3],[-22,-21.6],[-20,-21.5],
[-47,-24.5],[-45,-24.8],[-43,-24.3],[-41,-24.7],[-39,-24.4],[-37,-24.8],[-35,-24.3],[-33,-24.6],[-31,-24.5],[-29,-24.8],[-27,-24.4],
[-45,-27.5],[-43,-27.8],[-41,-27.3],[-39,-27.7],[-37,-27.4],[-35,-27.8],[-33,-27.3],[-31,-27.6],[-29,-27.5],
[-44,-30.3],[-42,-30.6],[-39,-30.1],[-37,-30.5],
[-25,-14],[-21,-15],[-18,-13.5],[-16,-15],[-13,-14.5],[-23,-16],[-12.5,-18],
[-5.8,2.6],[-4.4,2.6],[-1.8,2.6],[-0.5,3],[-5.4,-3.6],[-3.2,-4],[0.9,-7.4],[-10.7,-16.8],[-24.6,-14.3],[-25.9,13.9],[-24.5,13.9],[-12,12],[10.7,30.2],[15,-13],
[-26.2,13.3],[-6.6,2.7],[-1.2,2.7],[-6.1,-3.6],[0.5,-7.3],[-11,-17.3],[-25.3,-14.2],[12.1,-12.3]];
const p3Running = [[17,-34.5],[27,-34],[29,-35],[31,-34.5],
[15,-37],[17,-37.5],[19,-36.5],[21,-37],[25,-37.5],[27,-36.5],[29,-37],[31,-37.5],[33,-36.5],
[14,-40],[16,-40.5],[18,-39.5],[20,-40],[22,-40.5],[24,-39.5],[26,-40],[28,-40.5],[30,-39.5],[32,-40],
[14.5,-43],[16.5,-43.5],[18.5,-42.5],[20.5,-43],[22.5,-43.5],[24.5,-42.5],[26.5,-43],[28.5,-43.5],[30.5,-42.5],[33,-43],
[16,-46],[18,-46.5],[20,-45.5],[22,-46],[24,-46.5],[26,-45.5],[28,-46],[30,-46.5],[32,-45.5],
[13,-49],[15,-49.5],[17,-48.5],[22,-49],[24,-49.5],[26,-48.5],[28,-49],[30,-49.5],
[13.5,-51.5],[15.5,-52],[17.5,-51],[23,-51.5],[25,-52],
[16,-35.8],[18,-36],[26,-35.6],[28,-35.9],[30,-35.7],[32,-35.9],
[15,-38.5],[17,-38.8],[19,-38.3],[21,-38.7],[23,-38.4],[25,-38.8],[27,-38.3],[29,-38.6],[31,-38.5],[33,-38.7],
[15,-41.5],[17,-41.8],[19,-41.3],[21,-41.7],[23,-41.4],[25,-41.8],[27,-41.3],[29,-41.6],[31,-41.5],[33,-41.7],
[15.5,-44.5],[17.5,-44.8],[19.5,-44.3],[21.5,-44.7],[23.5,-44.4],[25.5,-44.8],[27.5,-44.3],[29.5,-44.6],[31.5,-44.5],[33,-44.7],
[14,-47.5],[16,-47.8],[18,-47.3],[21,-47.7],[23,-47.4],[25,-47.8],[27,-47.3],[29,-47.6],[31,-47.5],
[14,-50.3],[16,-50.6],[18,-50.1],[23,-50.5],[25,-50.2],[27,-50.5],
[0,-16.8],[3.1,-14.9],[5.4,-12.4],[8.9,-9.3],[10.3,-9.9],[8.9,-16.1],[12.5,-9.9],[12.9,-20],[16.5,-18.6],[19.6,-21],[17.4,-23.7],[21.4,-25.5],[21.9,-28.7],[18.75,-30.5],[17,-32.4],[-4,-11.8],[-3.5,-15],[-8.9,-13.6],[14,-22],[16,-25],[19,-25],[20,-29],[22,-31],[15,-28],[11,-17],[1,-14],[7,-14],[4,-9],[13,-16],[18,-27],[20,-23],[15,-19.5],
[-4.4,-11.7],[-0.3,-16.7],[2.3,-14.8],[5.9,-12.3],[8.1,-9.2],[10.3,-9.8],[12.1,-6],[6.8,-16.7],[10.3,-18.6],[13.9,-21.1],[18.4,-18.6],[19.3,-24.8],[15.7,-24.8],[21,-27.3],[18.4,-29.8],[-9.3,-13.6],[7,-11],[9,-13],[11,-14],[8,-15]];
const p3TableTennis = [[2,42],[4,42.5],[8,41.5],[10,42.5],[12,42],[14,41.5],
[1,39],[3,39.5],[5,38.5],[7,39],[9,39.5],[11,38.5],[13,39],[15,39.5],[17,38.5],
[0,36],[2,36.5],[4,35.5],[6,36],[8,36.5],[10,35.5],[12,36],[14,36.5],[16,35.5],[18,36],
[0,33],[2,33.5],[4,32.5],[7,33],[9,33.5],[11,32.5],[13,33],[15,33.5],[17,32.5],
[-2,30],[0,30.5],[2,29.5],[4,30],[6,30.5],[8,29.5],[10,30],[12,30.5],[14,29.5],
[-1,27],[1,27.5],[3,26.5],[5,27],[7,27.5],[9,26.5],[11,27],
[2,24],[4,24.5],[6,23.5],[8,24],[10,24.5],[12,23.5],
[4,21],[6,21.5],[9,20.5],[11,21],[5,18.5],[8,19],
[2,40.5],[4,40.8],[6,40.3],[8,40.7],[10,40.4],[12,40.8],[14,40.3],[16,40.6],
[1,37.5],[3,37.8],[5,37.3],[7,37.7],[9,37.4],[11,37.8],[13,37.3],[15,37.6],[17,37.5],
[0,34.5],[2,34.8],[4,34.3],[6,34.7],[8,34.4],[10,34.8],[12,34.3],[14,34.6],[16,34.5],[18,34.7],
[-1,31.5],[1,31.8],[3,31.3],[5,31.7],[7,31.4],[9,31.8],[11,31.3],[13,31.6],[15,31.5],[17,31.7],
[-1,28.5],[1,28.8],[3,28.3],[5,28.7],[7,28.4],[9,28.8],[11,28.3],[13,28.6],
[1,25.5],[3,25.8],[5,25.3],[7,25.7],[9,25.4],[11,25.8],
[3,22.5],[5,22.8],[7,22.3],[9,22.7],[11,22.4],
[5,20],[7,20.3],[10,19.8],
[-19.6,23.3],[-17,24.5],[-14.3,25.8],[-12.5,27],[-10.7,26.4],[-11.6,22.7],[-10.3,21.4],[-8.9,20.1],[-18.75,15],[-16,14.5],[-14.3,14.5],[-13,13.3],[-8.9,13.3],[-7.1,13.9],[-6.3,15.8],[-4.9,17.6],[-10.3,7],[-8.9,5.1],[-3.6,8.9],[-3,10],[-0.4,8.3],[1.8,8.3],[3.6,8.9],[4,5.8],[7.1,8.3],[7.1,3.9],[5.5,4.5],[-3.6,0.8],[-1.8,1.4],[-5.4,-6],[-3.2,-6],[6.3,13.3],[9.4,-3],[15.6,-12.4],[-18.3,-13.6],[-21,22.7],[-17.9,33.9],[-17.4,30.8],[-25.4,34.5],[-23.7,34.5],[-19.6,30.8],[-20,23.3],
[-20.8,24],[-13.7,25.2],[-11.9,26.4],[-10.6,21.5],[-13.7,14],[-15.9,14.6],[-8.3,13.3],[-6.6,15.2],[-7,10.2],[-3.9,10.2],[-1.2,12.7],[0.5,12.1],[3.2,7.7],[5.9,13.3],[6.8,7.7],[-1.7,2.7],[-4.8,2.1],[-5.7,-6],[9,-2.9],[-21.3,22.7],[-18.2,33.3],[-17.7,30.2]];

const panels = [
  {x: xDomain1, y: yDomain1, xt: xTicks1, yt: yTicks1, frameLeft: 126, ylabel: true,
   sets: [p1Background,p1Badminton,p1RopeSkipping,p1DumbbellFly,p1Running,p1TableTennis]},
  {x: xDomain2, y: yDomain2, xt: xTicks2, yt: yTicks2, frameLeft: 692, ylabel: false,
   sets: [p2Background,p2Badminton,p2RopeSkipping,p2DumbbellFly,p2Running,p2TableTennis]},
  {x: xDomain3, y: yDomain3, xt: xTicks3, yt: yTicks3, frameLeft: 1258, ylabel: false,
   sets: [p3Background,p3Badminton,p3RopeSkipping,p3DumbbellFly,p3Running,p3TableTennis]}
];

const navy = "#0c2461";
const grid = "#c9d9ee";
const fig = document.getElementById("fig");

const legend = document.getElementById("legend");
classes.forEach((c,i) => {
  const it = document.createElement("div"); it.className = "item";
  const mk = document.createElement("span"); mk.className = "mk";
  mk.style.background = i === 0 ? "#c4c6c9" : colors[i]; mk.style.opacity = i === 0 ? 0.7 : 0.6;
  const tx = document.createElement("span"); tx.textContent = c;
  it.appendChild(mk); it.appendChild(tx); legend.appendChild(it);
});

const mL = 100, mR = 12, mT = 20, mB = 125, fw = 443, fh = 281;
panels.forEach((p, pi) => {
  const rows = [];
  p.sets.forEach((arr, ci) => arr.forEach(([x,y]) => rows.push({x, y, ci})));
  const marks = [
    Plot.gridX(p.xt, {stroke: grid, strokeOpacity: 1, strokeWidth: 1}),
    Plot.gridY(p.yt, {stroke: grid, strokeOpacity: 1, strokeWidth: 1}),
    Plot.dot(rows.filter(d => d.ci === 0), {x: "x", y: "y", r: 4.2, fill: colors[0], fillOpacity: 0.4, stroke: "none"}),
    Plot.dot(rows.filter(d => d.ci > 0), {x: "x", y: "y", r: 4.2, fill: d => colors[d.ci], fillOpacity: 0.68, stroke: "none"}),
    Plot.ruleX([p.x[0]], {stroke: navy, strokeWidth: 2.5}),
    Plot.ruleY([p.y[0]], {stroke: navy, strokeWidth: 2.5}),
    Plot.axisX(p.xt, {tickSize: 9, tickPadding: 11, fontSize: 24, color: navy, strokeWidth: 2.2, label: null}),
    Plot.axisY(p.yt, {tickSize: 9, tickPadding: 11, fontSize: 24, color: navy, strokeWidth: 2.2, label: null}),
    Plot.text(["t-SNE 1"], {text: d => d, frameAnchor: "bottom", dy: 68, lineAnchor: "middle", fontSize: 27, fill: navy}),
    Plot.text([captions[pi]], {text: d => d, frameAnchor: "bottom", dy: 96, lineAnchor: "middle", fontSize: 28, fill: navy})
  ];
  if (p.ylabel) marks.push(Plot.text(["t-SNE 2"], {text: d => d, frameAnchor: "left", dx: -82, rotate: -90, lineAnchor: "middle", fontSize: 27, fill: navy}));
  const chart = Plot.plot({
    width: mL + fw + mR, height: mT + fh + mB,
    marginLeft: mL, marginRight: mR, marginTop: mT, marginBottom: mB,
    x: {domain: p.x, label: null}, y: {domain: p.y, label: null},
    style: {fontFamily: '"Liberation Serif", serif', background: "transparent", color: navy, overflow: "visible"},
    marks
  });
  chart.classList.add("panel");
  chart.style.left = (p.frameLeft - mL) + "px";
  fig.appendChild(chart);
});
</script>
</body></html>
